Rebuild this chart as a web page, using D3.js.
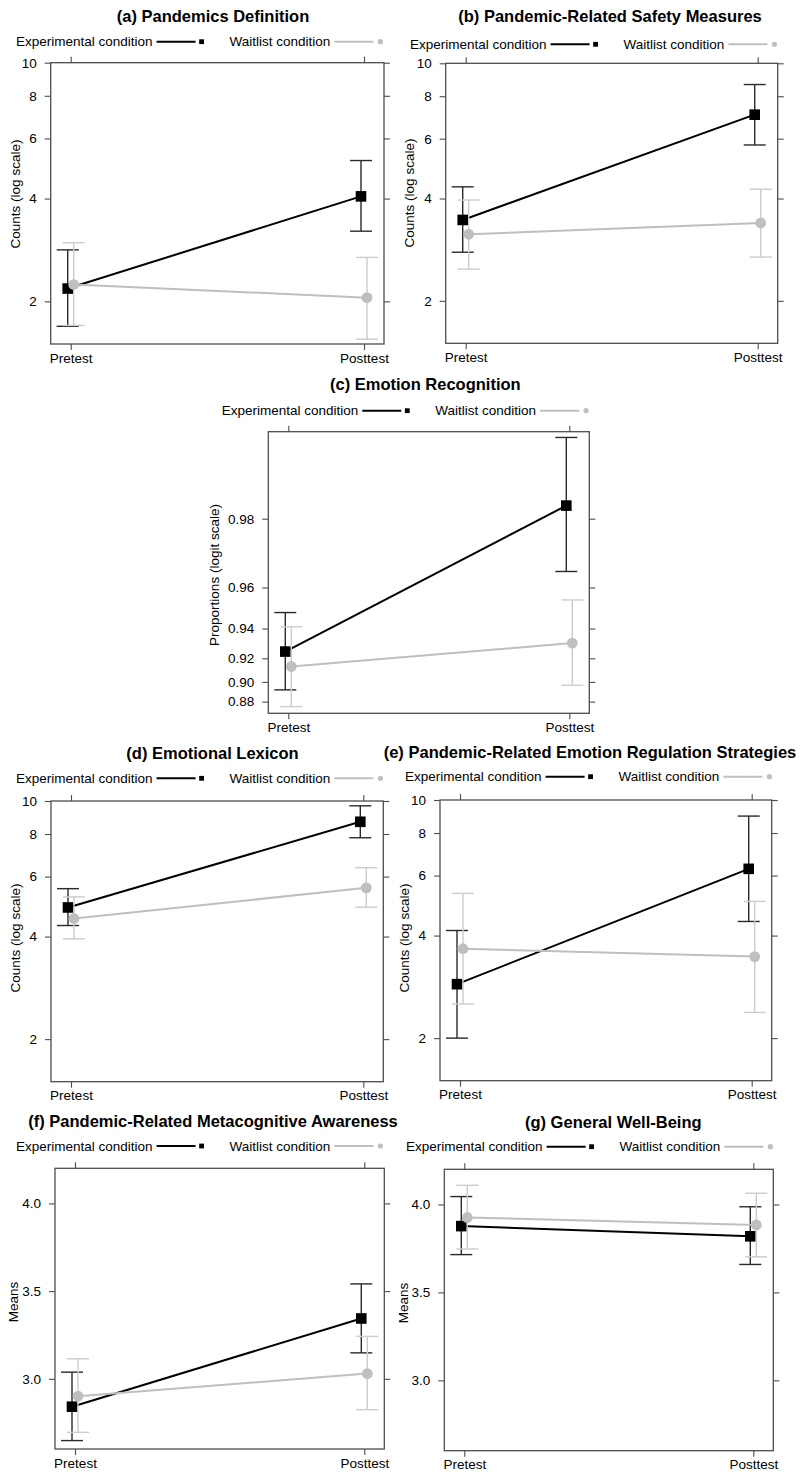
<!DOCTYPE html>
<html>
<head>
<meta charset="utf-8">
<script src="https://cdn.jsdelivr.net/npm/d3@7"></script>
<style>
  html, body { margin: 0; padding: 0; background: #fff; }
  svg { display: block; font-family: "Liberation Sans", Arial, Helvetica, sans-serif; }
</style>
</head>
<body>
<svg id="chart" width="800" height="1475"></svg>
<script>
// ---------------- DATA ----------------
const timepoints = ["Pretest", "Posttest"];
const legendLabels = ["Experimental condition", "Waitlist condition"];
const panelTitles = [
  "(a) Pandemics Definition",
  "(b) Pandemic-Related Safety Measures",
  "(c) Emotion Recognition",
  "(d) Emotional Lexicon",
  "(e) Pandemic-Related Emotion Regulation Strategies",
  "(f) Pandemic-Related Metacognitive Awareness",
  "(g) General Well-Being"
];
const yAxisTitles = [
  "Counts (log scale)", "Counts (log scale)", "Proportions (logit scale)",
  "Counts (log scale)", "Counts (log scale)", "Means", "Means"
];
const scaleTypes = ["log", "log", "logit", "log", "log", "linear", "linear"];
const yDomains = [[1.5, 10], [1.5, 10], [0.8666, 0.9918], [1.5, 10], [1.5, 10], [2.6, 4.2], [2.6, 4.2]];
const yTickValues = [
  [2, 4, 6, 8, 10], [2, 4, 6, 8, 10],
  [0.88, 0.90, 0.92, 0.94, 0.96, 0.98],
  [2, 4, 6, 8, 10], [2, 4, 6, 8, 10],
  [3.0, 3.5, 4.0], [3.0, 3.5, 4.0]
];
const yTickFormats = ["d", "d", ".2f", "d", "d", ".1f", ".1f"];

// [Pretest, Posttest] for each panel
const expMean  = [[2.18, 4.06], [3.46, 7.06], [0.925, 0.9825], [4.87, 8.69], [2.88, 6.28], [2.841, 3.344], [3.877, 3.819]];
const expLower = [[1.69, 3.21], [2.78, 5.75], [0.8923, 0.9659], [4.31, 7.80], [2.00, 4.40], [2.648, 3.148], [3.715, 3.659]];
const expUpper = [[2.83, 5.17], [4.33, 8.66], [0.9487, 0.9913], [5.53, 9.68], [4.14, 8.97], [3.038, 3.541], [4.045, 3.987]];
const waitMean  = [[2.24, 2.05], [3.14, 3.39], [0.9135, 0.9309], [4.52, 5.56], [3.66, 3.47], [2.901, 3.030], [3.926, 3.884]];
const waitLower = [[1.70, 1.55], [2.48, 2.69], [0.8745, 0.8968], [3.94, 4.88], [2.52, 2.38], [2.695, 2.824], [3.747, 3.702]];
const waitUpper = [[2.97, 2.69], [3.96, 4.26], [0.9410, 0.9547], [5.23, 6.37], [5.32, 5.04], [3.114, 3.242], [4.109, 4.064]];

// ---------------- LAYOUT ----------------
const layout = [
  {l: 50.7,  r: 384,   t: 62.7,   b: 344,    tx: 213,   ty: 22,     ly: 41.7,   lx: 16,    yl: 15,    ylc: 194},
  {l: 445.7, r: 777.7, t: 63.3,   b: 343.3,  tx: 610,   ty: 22,     ly: 44.3,   lx: 410,   yl: 409.5, ylc: 193},
  {l: 268.3, r: 589.3, t: 431.7,  b: 713.3,  tx: 425.3, ty: 389.5,  ly: 410.7,  lx: 221.7, yl: 214,   ylc: 575},
  {l: 51,    r: 383.3, t: 801,    b: 1081.7, tx: 212.5, ty: 758.5,  ly: 778.3,  lx: 16,    yl: 15,    ylc: 938},
  {l: 440,   r: 771.7, t: 800,    b: 1080.7, tx: 590,   ty: 757.5,  ly: 776.7,  lx: 405,   yl: 404,   ylc: 938},
  {l: 55,    r: 384.3, t: 1168.3, b: 1449,   tx: 213,   ty: 1127.3, ly: 1146,   lx: 16,    yl: 13.5,  ylc: 1302},
  {l: 444.3, r: 773.3, t: 1169.3, b: 1450.7, tx: 613.3, ty: 1128.3, ly: 1146.7, lx: 406,   yl: 403,   ylc: 1303}
];

const EXP_COLOR = "#000000";
const EXP_BAR = "#2a2a2a";
const WAIT_COLOR = "#bfbfbf";
const WAIT_BAR = "#cccccc";
const FRAME = "#4d4d4d";
const FONT = 13.5;

const logit = p => Math.log(p / (1 - p));
const invLogit = v => 1 / (1 + Math.exp(-v));

const svg = d3.select("#chart");

panelTitles.forEach((title, i) => {
  const L = layout[i];
  const g = svg.append("g");

  // x scale
  const x = d3.scalePoint().domain(timepoints).range([L.l + 20, L.r - 20]);

  // y scale
  let yBase, y, axisTickVals, axisFmt;
  if (scaleTypes[i] === "log") {
    yBase = d3.scaleLog().domain(yDomains[i]).range([L.b, L.t]);
    y = v => yBase(v);
    axisTickVals = yTickValues[i];
    axisFmt = d3.format(yTickFormats[i]);
  } else if (scaleTypes[i] === "logit") {
    yBase = d3.scaleLinear().domain(yDomains[i].map(logit)).range([L.b, L.t]);
    y = v => yBase(logit(v));
    axisTickVals = yTickValues[i].map(logit);
    axisFmt = v => d3.format(yTickFormats[i])(invLogit(v));
  } else {
    yBase = d3.scaleLinear().domain(yDomains[i]).range([L.b, L.t]);
    y = v => yBase(v);
    axisTickVals = yTickValues[i];
    axisFmt = d3.format(yTickFormats[i]);
  }

  // Title
  g.append("text")
    .attr("x", L.tx).attr("y", L.ty)
    .attr("text-anchor", "middle")
    .attr("font-size", 16.5).attr("font-weight", "bold")
    .attr("fill", "#000")
    .text(title);

  // Legend
  const leg = g.append("g");
  const t1 = leg.append("text")
    .attr("x", L.lx).attr("y", L.ly + 4.6)
    .attr("font-size", FONT).attr("fill", "#000")
    .text(legendLabels[0]);
  const w1 = t1.node().getComputedTextLength();
  const l1s = L.lx + w1 + 4;
  leg.append("line").attr("x1", l1s).attr("x2", l1s + 39).attr("y1", L.ly).attr("y2", L.ly)
    .attr("stroke", EXP_COLOR).attr("stroke-width", 2);
  leg.append("rect").attr("x", l1s + 45 - 2.4).attr("y", L.ly - 2.4).attr("width", 4.8).attr("height", 4.8)
    .attr("fill", EXP_COLOR);
  const x2 = l1s + 45 + 28;
  const t2 = leg.append("text")
    .attr("x", x2).attr("y", L.ly + 4.6)
    .attr("font-size", FONT).attr("fill", "#000")
    .text(legendLabels[1]);
  const w2 = t2.node().getComputedTextLength();
  const l2s = x2 + w2 + 4;
  leg.append("line").attr("x1", l2s).attr("x2", l2s + 39).attr("y1", L.ly).attr("y2", L.ly)
    .attr("stroke", WAIT_COLOR).attr("stroke-width", 2);
  leg.append("circle").attr("cx", l2s + 46).attr("cy", L.ly).attr("r", 2.6)
    .attr("fill", WAIT_COLOR);

  // Axes
  const styleAxis = (sel, labels) => {
    sel.select(".domain").remove();
    sel.selectAll(".tick line").attr("stroke", FRAME).attr("stroke-width", 1.1);
    sel.selectAll(".tick text")
      .attr("font-size", FONT).attr("fill", "#000")
      .attr("font-family", "Liberation Sans, Arial, sans-serif");
    if (!labels) sel.selectAll(".tick text").remove();
  };

  g.append("g").attr("transform", `translate(${L.l},0)`)
    .call(d3.axisLeft(yBase).tickValues(axisTickVals).tickFormat(axisFmt).tickSize(6).tickSizeOuter(0).tickPadding(8))
    .call(s => styleAxis(s, true));
  g.append("g").attr("transform", `translate(${L.r},0)`)
    .call(d3.axisRight(yBase).tickValues(axisTickVals).tickSize(6).tickSizeOuter(0))
    .call(s => styleAxis(s, false));
  g.append("g").attr("transform", `translate(0,${L.b})`)
    .call(d3.axisBottom(x).tickSize(6).tickSizeOuter(0).tickPadding(3))
    .call(s => styleAxis(s, true));
  g.append("g").attr("transform", `translate(0,${L.t})`)
    .call(d3.axisTop(x).tickSize(6).tickSizeOuter(0))
    .call(s => styleAxis(s, false));

  // Frame
  g.append("rect")
    .attr("x", L.l).attr("y", L.t).attr("width", L.r - L.l).attr("height", L.b - L.t)
    .attr("fill", "none").attr("stroke", FRAME).attr("stroke-width", 1.3);

  // Y axis title
  g.append("text")
    .attr("transform", `translate(${L.yl},${L.ylc}) rotate(-90)`)
    .attr("text-anchor", "middle").attr("dominant-baseline", "central")
    .attr("font-size", FONT).attr("fill", "#000")
    .text(yAxisTitles[i]);

  // Series
  const series = [
    {mean: expMean[i], lo: expLower[i], hi: expUpper[i], dx: -3, color: EXP_COLOR, bar: EXP_BAR, shape: "square"},
    {mean: waitMean[i], lo: waitLower[i], hi: waitUpper[i], dx: 3, color: WAIT_COLOR, bar: WAIT_BAR, shape: "circle"}
  ];
  series.forEach(s => {
    const pts = timepoints.map((tp, k) => ({x: x(tp) + s.dx, m: s.mean[k], lo: s.lo[k], hi: s.hi[k]}));
    const sg = g.append("g");
    // error bars
    pts.forEach(p => {
      sg.append("line").attr("x1", p.x).attr("x2", p.x).attr("y1", y(p.lo)).attr("y2", y(p.hi))
        .attr("stroke", s.bar).attr("stroke-width", 1.4);
      [p.lo, p.hi].forEach(v => {
        sg.append("line").attr("x1", p.x - 11).attr("x2", p.x + 11).attr("y1", y(v)).attr("y2", y(v))
          .attr("stroke", s.bar).attr("stroke-width", 1.4);
      });
    });
    // line
    sg.append("path")
      .attr("d", d3.line().x(p => p.x).y(p => y(p.m))(pts))
      .attr("fill", "none").attr("stroke", s.color).attr("stroke-width", 2);
    // markers
    pts.forEach(p => {
      if (s.shape === "square") {
        sg.append("rect").attr("x", p.x - 5.3).attr("y", y(p.m) - 5.3).attr("width", 10.6).attr("height", 10.6)
          .attr("fill", s.color);
      } else {
        sg.append("circle").attr("cx", p.x).attr("cy", y(p.m)).attr("r", 5.4).attr("fill", s.color);
      }
    });
  });
});
</script>
</body>
</html>
